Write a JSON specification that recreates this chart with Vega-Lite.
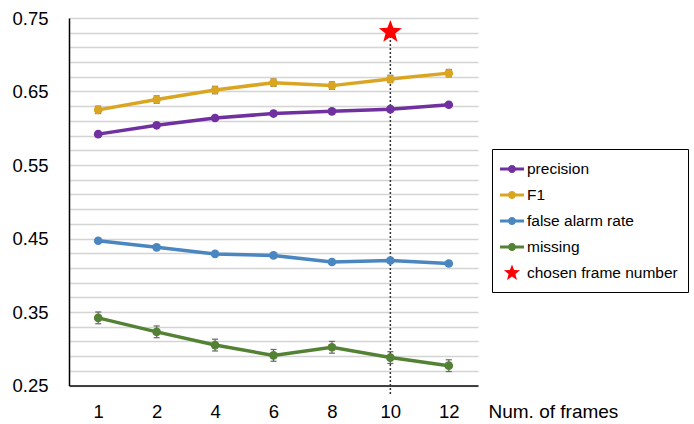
{
  "$schema": "https://vega.github.io/schema/vega-lite/v6.json",
  "autosize": "none",
  "width": 409,
  "height": 367.5,
  "padding": {"left": 69, "top": 18, "right": 216, "bottom": 38},
  "background": "white",
  "config": {
    "view": {"stroke": null},
    "font": "Liberation Sans"
  },
  "datasets": {
    "metrics": [
      {"frames": "1", "metric": "precision", "value": 0.592, "lo": 0.592, "hi": 0.592},
      {"frames": "2", "metric": "precision", "value": 0.604, "lo": 0.604, "hi": 0.604},
      {"frames": "4", "metric": "precision", "value": 0.614, "lo": 0.614, "hi": 0.614},
      {"frames": "6", "metric": "precision", "value": 0.620, "lo": 0.620, "hi": 0.620},
      {"frames": "8", "metric": "precision", "value": 0.623, "lo": 0.623, "hi": 0.623},
      {"frames": "10", "metric": "precision", "value": 0.626, "lo": 0.626, "hi": 0.626},
      {"frames": "12", "metric": "precision", "value": 0.632, "lo": 0.632, "hi": 0.632},
      {"frames": "1", "metric": "F1", "value": 0.625, "lo": 0.620, "hi": 0.630},
      {"frames": "2", "metric": "F1", "value": 0.639, "lo": 0.634, "hi": 0.644},
      {"frames": "4", "metric": "F1", "value": 0.652, "lo": 0.647, "hi": 0.657},
      {"frames": "6", "metric": "F1", "value": 0.662, "lo": 0.657, "hi": 0.667},
      {"frames": "8", "metric": "F1", "value": 0.658, "lo": 0.653, "hi": 0.663},
      {"frames": "10", "metric": "F1", "value": 0.667, "lo": 0.662, "hi": 0.672},
      {"frames": "12", "metric": "F1", "value": 0.675, "lo": 0.670, "hi": 0.680},
      {"frames": "1", "metric": "false alarm rate", "value": 0.447, "lo": 0.447, "hi": 0.447},
      {"frames": "2", "metric": "false alarm rate", "value": 0.438, "lo": 0.438, "hi": 0.438},
      {"frames": "4", "metric": "false alarm rate", "value": 0.429, "lo": 0.429, "hi": 0.429},
      {"frames": "6", "metric": "false alarm rate", "value": 0.427, "lo": 0.427, "hi": 0.427},
      {"frames": "8", "metric": "false alarm rate", "value": 0.418, "lo": 0.418, "hi": 0.418},
      {"frames": "10", "metric": "false alarm rate", "value": 0.420, "lo": 0.420, "hi": 0.420},
      {"frames": "12", "metric": "false alarm rate", "value": 0.416, "lo": 0.416, "hi": 0.416},
      {"frames": "1", "metric": "missing", "value": 0.342, "lo": 0.334, "hi": 0.350},
      {"frames": "2", "metric": "missing", "value": 0.323, "lo": 0.315, "hi": 0.331},
      {"frames": "4", "metric": "missing", "value": 0.305, "lo": 0.297, "hi": 0.313},
      {"frames": "6", "metric": "missing", "value": 0.291, "lo": 0.283, "hi": 0.299},
      {"frames": "8", "metric": "missing", "value": 0.302, "lo": 0.294, "hi": 0.310},
      {"frames": "10", "metric": "missing", "value": 0.288, "lo": 0.280, "hi": 0.296},
      {"frames": "12", "metric": "missing", "value": 0.277, "lo": 0.269, "hi": 0.285}
    ],
    "chosen": [
      {"frames": "10", "metric": "chosen frame number", "value": 0.731, "bottom": 0.237}
    ]
  },
  "layer": [
    {
      "data": {"name": "metrics"},
      "mark": {"type": "line", "strokeWidth": 3.5},
      "encoding": {
        "x": {
          "field": "frames",
          "type": "ordinal",
          "sort": ["1", "2", "4", "6", "8", "10", "12"],
          "scale": {"type": "point", "padding": 0.5},
          "axis": {
            "title": "Num. of frames",
            "titleX": 419,
            "titleY": 17,
            "titleAlign": "left",
            "titleBaseline": "top",
            "titleFontSize": 19,
            "titleFontWeight": "normal",
            "titleColor": "#000000",
            "labelAngle": 0,
            "labelFontSize": 18.5,
            "labelColor": "#000000",
            "labelPadding": 17,
            "ticks": false,
            "tickSize": 0,
            "grid": false,
            "domainColor": "#404040",
            "domainWidth": 2
          }
        },
        "y": {
          "field": "value",
          "type": "quantitative",
          "scale": {"domain": [0.25, 0.75], "nice": false, "zero": false},
          "axis": {
            "title": null,
            "values": [0.25, 0.27, 0.29, 0.31, 0.33, 0.35, 0.37, 0.39, 0.41, 0.43, 0.45, 0.47, 0.49, 0.51, 0.53, 0.55, 0.57, 0.59, 0.61, 0.63, 0.65, 0.67, 0.69, 0.71, 0.73, 0.75],
            "tickCount": 40,
            "labelExpr": "(round(datum.value * 100) - 25) % 10 === 0 ? format(datum.value, '.2f') : ''",
            "labelOverlap": false,
            "labelFontSize": 18.5,
            "labelColor": "#000000",
            "labelPadding": 21,
            "ticks": false,
            "tickSize": 0,
            "grid": true,
            "gridColor": "#d4d4d4",
            "gridWidth": 1.5,
            "domainColor": "#000000",
            "domainWidth": 1.5
          }
        },
        "color": {
          "field": "metric",
          "type": "nominal",
          "scale": {
            "domain": ["precision", "F1", "false alarm rate", "missing", "chosen frame number"],
            "range": ["#7030A0", "#DAA520", "#4A86C0", "#548235", "#FF0000"]
          },
          "legend": {
            "title": null,
            "orient": "none",
            "legendX": 423,
            "legendY": 131,
            "strokeColor": "#000000",
            "fillColor": "#ffffff",
            "padding": 10,
            "rowPadding": 7,
            "symbolSize": 400,
            "symbolType": "circle",
            "labelFontSize": 15.5,
            "labelColor": "#000000",
            "labelOffset": 5,
            "labelLimit": 300,
            "encode": {
              "symbols": {
                "update": {
                  "shape": {"signal": "datum.value === 'chosen frame number' ? 'M0,-1L0.2469,-0.3398L0.9511,-0.309L0.3995,0.1298L0.5878,0.809L0,0.42L-0.5878,0.809L-0.3995,0.1298L-0.9511,-0.309L-0.2469,-0.3398Z' : 'M-1.2,-0.15L1.2,-0.15L1.2,0.15L-1.2,0.15Z M-0.4,0A0.4,0.4 0 1,1 0.4,0A0.4,0.4 0 1,1 -0.4,0Z'"},
                  "size": {"signal": "datum.value === 'chosen frame number' ? 290 : 400"},
                  "fill": {"signal": "scale('color', datum.value)"},
                  "opacity": {"value": 1},
                  "fillOpacity": {"value": 1},
                  "strokeWidth": {"value": 0}
                }
              }
            }
          }
        }
      }
    },
    {
      "data": {"name": "metrics"},
      "mark": {"type": "rule", "color": "#666666", "strokeWidth": 1.2},
      "encoding": {
        "x": {"field": "frames", "type": "ordinal", "sort": ["1", "2", "4", "6", "8", "10", "12"]},
        "y": {"field": "lo", "type": "quantitative"},
        "y2": {"field": "hi"}
      }
    },
    {
      "data": {"name": "metrics"},
      "mark": {"type": "tick", "orient": "horizontal", "color": "#666666", "size": 6, "thickness": 1.2, "opacity": 1},
      "encoding": {
        "x": {"field": "frames", "type": "ordinal", "sort": ["1", "2", "4", "6", "8", "10", "12"]},
        "y": {"field": "lo", "type": "quantitative"}
      }
    },
    {
      "data": {"name": "metrics"},
      "mark": {"type": "tick", "orient": "horizontal", "color": "#666666", "size": 6, "thickness": 1.2, "opacity": 1},
      "encoding": {
        "x": {"field": "frames", "type": "ordinal", "sort": ["1", "2", "4", "6", "8", "10", "12"]},
        "y": {"field": "hi", "type": "quantitative"}
      }
    },
    {
      "data": {"name": "chosen"},
      "mark": {"type": "rule", "color": "#333333", "strokeWidth": 1.5, "strokeDash": [2, 2]},
      "encoding": {
        "x": {"field": "frames", "type": "ordinal", "sort": ["1", "2", "4", "6", "8", "10", "12"]},
        "y": {"field": "value", "type": "quantitative"},
        "y2": {"field": "bottom"}
      }
    },
    {
      "data": {"name": "metrics"},
      "mark": {"type": "point", "filled": true, "size": 75, "opacity": 1, "shape": "circle"},
      "encoding": {
        "x": {"field": "frames", "type": "ordinal", "sort": ["1", "2", "4", "6", "8", "10", "12"]},
        "y": {"field": "value", "type": "quantitative"},
        "color": {"field": "metric", "type": "nominal"}
      }
    },
    {
      "data": {"name": "chosen"},
      "mark": {"type": "point", "filled": true, "shape": "M0,-1L0.2469,-0.3398L0.9511,-0.309L0.3995,0.1298L0.5878,0.809L0,0.42L-0.5878,0.809L-0.3995,0.1298L-0.9511,-0.309L-0.2469,-0.3398Z", "size": 580, "opacity": 1},
      "encoding": {
        "x": {"field": "frames", "type": "ordinal", "sort": ["1", "2", "4", "6", "8", "10", "12"]},
        "y": {"field": "value", "type": "quantitative"},
        "color": {"field": "metric", "type": "nominal"}
      }
    }
  ]
}
